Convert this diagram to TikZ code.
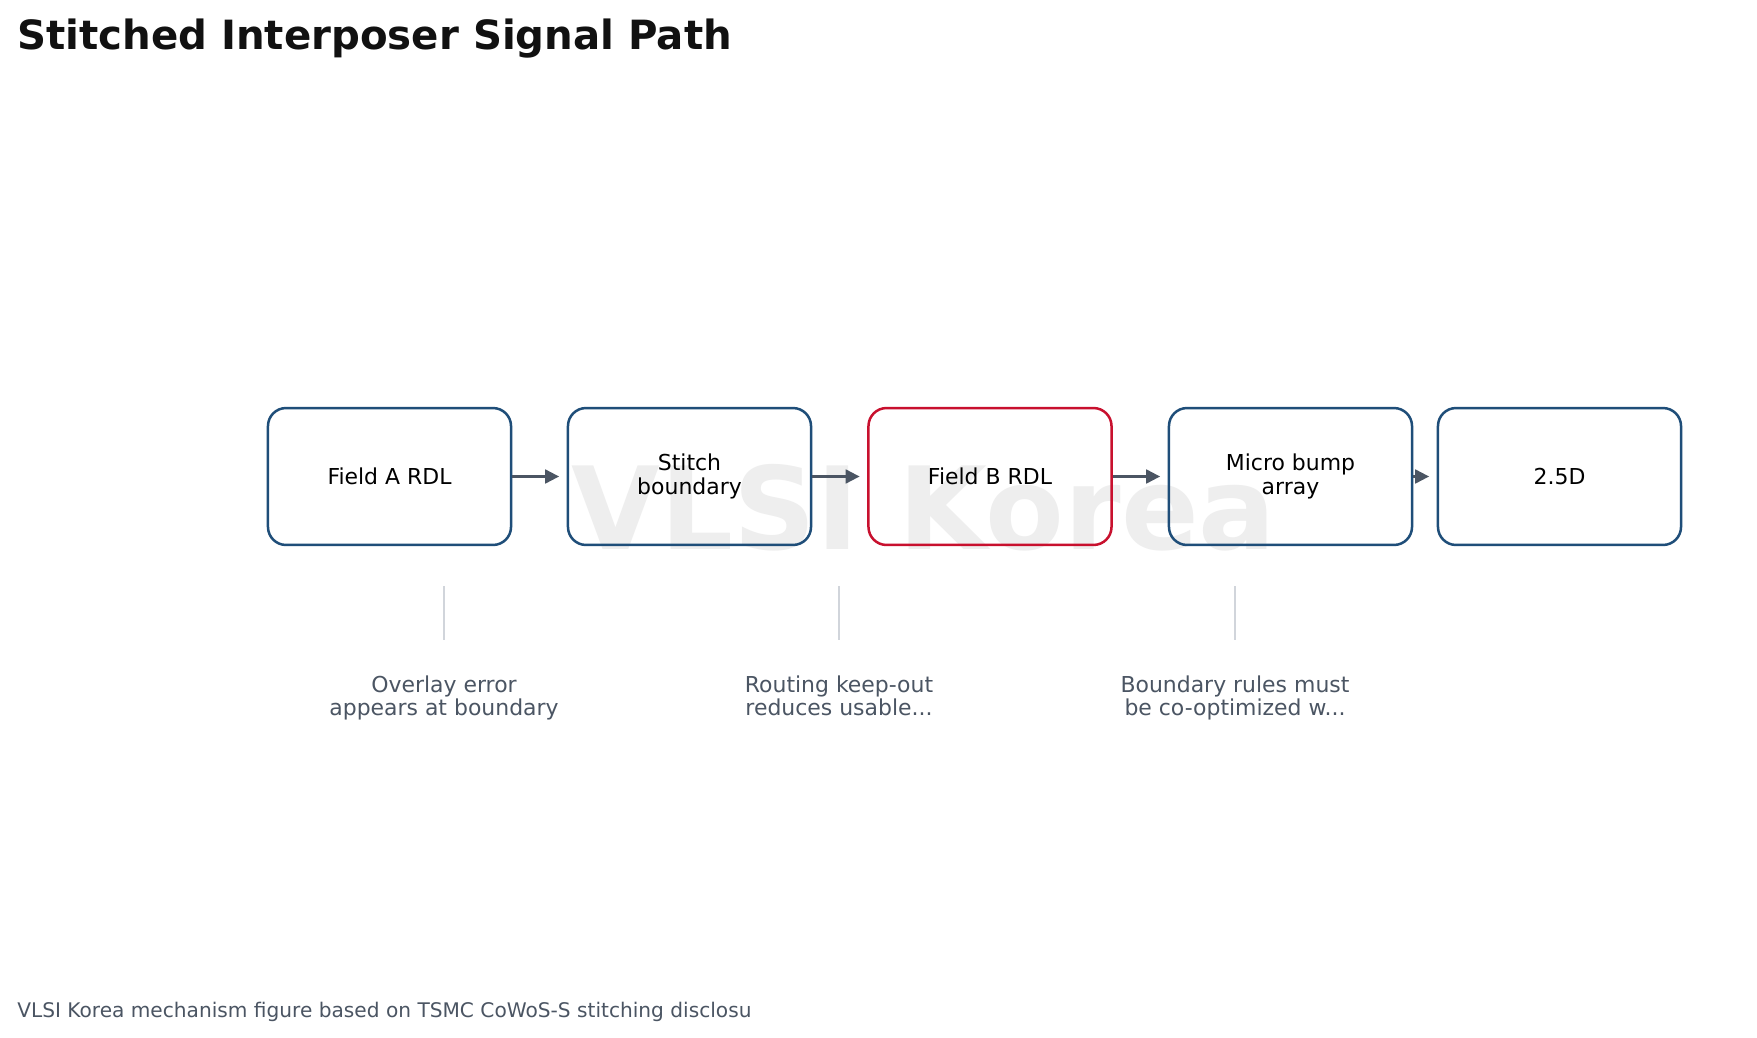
\documentclass[tikz,border=0pt]{standalone}
\usepackage{fontspec}
\setmainfont{DejaVu Sans}
\usetikzlibrary{arrows.meta}
\definecolor{boxblue}{HTML}{1F4E79}
\definecolor{boxred}{HTML}{C8102E}
\definecolor{arrowgray}{HTML}{4B5563}
\definecolor{tickgray}{HTML}{D1D5DB}
\definecolor{wmgray}{HTML}{EEEEEE}
\definecolor{titleblack}{HTML}{111111}
\tikzset{
  stage/.style={draw=boxblue, line width=1.8pt, rounded corners=13pt,
    minimum width=175pt, minimum height=98.6pt, align=center, inner sep=0pt,
    font=\fontsize{15.8}{17}\selectfont, text=black},
  hot/.style={stage, draw=boxred},
  flow/.style={draw=arrowgray, line width=1.5pt, -{Triangle[length=10pt,width=10pt]}, shorten >=5.5pt},
  tick/.style={draw=tickgray, line width=1.2pt},
  note/.style={anchor=north, align=center, text=arrowgray, font=\fontsize{15.8}{17}\selectfont},
}
\begin{document}
\begin{tikzpicture}[x=0.72pt,y=-0.72pt]
\useasboundingbox[fill=white] (0,0) rectangle (1757,1038);
\node[anchor=base, text=wmgray, font=\bfseries\fontsize{82.6}{88}\selectfont] (wm) at (924,549) {VLSI Korea};
\node[anchor=base west, inner sep=0pt, text=titleblack, font=\bfseries\fontsize{29}{32}\selectfont] (title) at (17,49) {Stitched Interposer Signal Path};
\node[stage] (a) at (389.5,476.5) {Field A RDL};
\node[stage] (b) at (689.5,476.5) {Stitch\\boundary};
\node[hot]   (c) at (990,476.5) {Field B RDL};
\node[stage] (d) at (1290.5,476.5) {Micro bump\\array};
\node[stage] (e) at (1559.5,476.5) {2.5D};
\draw[flow] (a) -- (b);
\draw[flow] (b) -- (c);
\draw[flow] (c) -- (d);
\draw[flow] (d) -- (e);
\coordinate (t1a) at (444,586); \coordinate (t1b) at (444,640);
\coordinate (t2a) at (839,586); \coordinate (t2b) at (839,640);
\coordinate (t3a) at (1235,586); \coordinate (t3b) at (1235,640);
\draw[tick] (t1a) -- (t1b);
\draw[tick] (t2a) -- (t2b);
\draw[tick] (t3a) -- (t3b);
\node[note] (n1) at (444,670.5) {Overlay error\\appears at boundary};
\node[note] (n2) at (839,670.5) {Routing keep-out\\reduces usable...};
\node[note] (n3) at (1235,670.5) {Boundary rules must\\be co-optimized w...};
\node[anchor=base west, inner sep=0pt, text=arrowgray, font=\fontsize{14.5}{16}\selectfont] (foot) at (17,1017) {VLSI Korea mechanism figure based on TSMC CoWoS-S stitching disclosu};
\end{tikzpicture}
\end{document}
